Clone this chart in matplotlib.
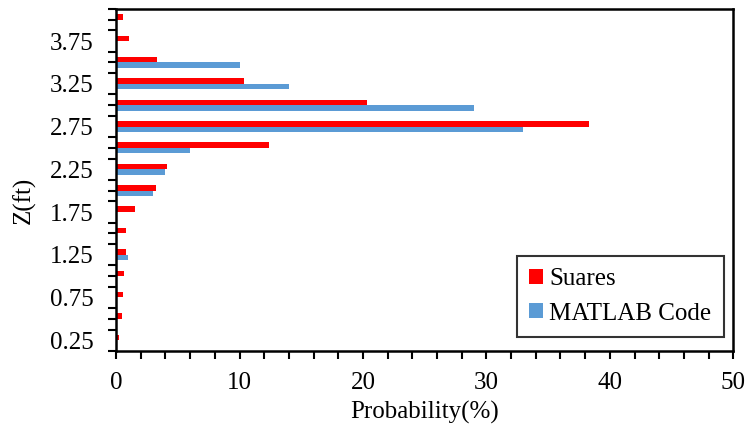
import numpy as np
import matplotlib
matplotlib.use('Agg')
import matplotlib.pyplot as plt
from matplotlib.ticker import MultipleLocator, FixedLocator

plt.rcParams['font.family'] = ['Liberation Serif', 'DejaVu Serif']

z = [0.25, 0.5, 0.75, 1.0, 1.25, 1.5, 1.75, 2.0, 2.25, 2.5, 2.75, 3.0, 3.25, 3.5, 3.75, 4.0]
suares = [0.22, 0.46, 0.54, 0.65, 0.78, 0.78, 1.54, 3.27, 4.15, 12.4, 38.3, 20.3, 10.4, 3.3, 1.03, 0.55]
matlab = [0, 0, 0, 0, 0.94, 0, 0, 3.0, 4.0, 6.0, 33.0, 29.0, 14.0, 10.0, 0, 0]
ytick_labels = ['0.25', '0.75', '1.25', '1.75', '2.25', '2.75', '3.25', '3.75']

FS = 18

fig = plt.figure(figsize=(7.49, 4.30), dpi=100)
ax = fig.add_axes([0.155, 0.184, 0.824, 0.795])

h = 0.065
y = np.array(z)
ax.barh(y + h / 2, suares, height=h, color='#FF0000', label='Suares')
ax.barh(y - h / 2, matlab, height=h, color='#5B9BD5', label='MATLAB Code')

ax.set_xlim(0, 50)
ax.set_ylim(0.125, 4.125)
ax.xaxis.set_major_locator(MultipleLocator(10))
ax.xaxis.set_minor_locator(MultipleLocator(2))
ax.yaxis.set_major_locator(FixedLocator([float(t) for t in ytick_labels]))
ax.set_yticklabels(ytick_labels)
minor_y = [v for v in np.arange(0.125, 4.126, 0.125) if round(v, 3) not in [float(t) for t in ytick_labels]]
ax.yaxis.set_minor_locator(FixedLocator(minor_y))

ax.tick_params(axis='both', which='both', direction='out', width=1.5, length=6, labelsize=FS, colors='black')
ax.tick_params(axis='y', which='major', length=0, pad=16)
ax.tick_params(axis='x', which='major', length=6, pad=9)
for s in ax.spines.values():
    s.set_linewidth(1.8)

ax.set_xlabel('Probability(%)', fontsize=FS, labelpad=5)
ax.set_ylabel('Z(ft)', fontsize=FS, labelpad=8)
ax.yaxis.set_label_coords(-0.13, 0.44)

leg = ax.legend(loc='lower right', fontsize=FS, frameon=True, fancybox=False, edgecolor='black',
                handlelength=0.55, handleheight=0.55, handletextpad=0.25, borderpad=0.5,
                labelspacing=0.5, borderaxespad=0, bbox_to_anchor=(0.985, 0.04))
leg.get_frame().set_linewidth(1.5)

fig.savefig('out.png', dpi=100)
